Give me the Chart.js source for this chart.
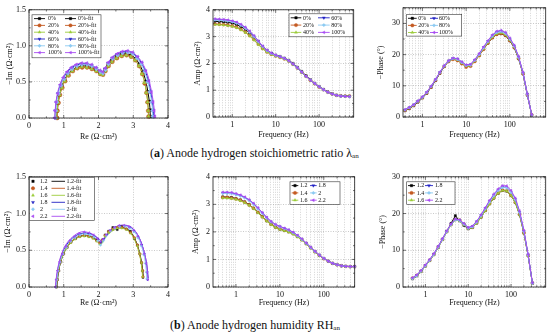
<!DOCTYPE html>
<html>
<head>
<meta charset="utf-8">
<script src="https://cdn.jsdelivr.net/npm/chart.js@4.4.0/dist/chart.umd.min.js"></script>
<style>
body { margin: 0; background: #fff; width: 550px; height: 336px; position: relative; overflow: hidden; font-family: "Liberation Serif", "Times New Roman", serif; }
canvas { position: absolute; }
.cap { position: absolute; font-size: 12px; white-space: nowrap; color: #111; }
.cap sub { font-size: 7px; vertical-align: -1px; }
</style>
</head>
<body>
<canvas id="a1"></canvas>
<canvas id="a2"></canvas>
<canvas id="a3"></canvas>
<canvas id="b1"></canvas>
<canvas id="b2"></canvas>
<canvas id="b3"></canvas>
<div class="cap" style="left:150px;top:146px">(<b>a</b>) Anode hydrogen stoichiometric ratio λ<sub>an</sub></div>
<div class="cap" style="left:170px;top:318px">(<b>b</b>) Anode hydrogen humidity RH<sub>an</sub></div>
<script>
// ---------- data ----------
var seriesA = ['0%', '20%', '40%', '60%', '80%', '100%'];
var seriesB = ['1.2', '1.4', '1.6', '1.8', '2', '2.2'];

var freqA = [0.4, 0.5, 0.63, 0.79, 1, 1.26, 1.58, 2, 2.51, 3.16, 3.98, 5.01, 6.31, 7.94, 10, 12.6, 15.8, 20, 25.1, 31.6, 39.8, 50.1, 63.1, 79.4, 100, 126, 158, 200, 251, 316, 398, 501];
var freqB = [0.5, 0.63, 0.79, 1, 1.26, 1.58, 2, 2.51, 3.16, 3.98, 5.01, 6.31, 7.94, 10, 12.6, 15.8, 20, 25.1, 31.6, 39.8, 50.1, 63.1, 79.4, 100, 126, 158, 200, 251, 316, 398, 501];

var freqTicks = [0.3, 0.4, 0.5, 0.6, 0.7, 0.8, 0.9, 1, 2, 3, 4, 5, 6, 7, 8, 9, 10, 20, 30, 40, 50, 60, 70, 80, 90, 100, 200, 300, 400, 500, 600];
var freqLabels = [1, 10, 100];

// (a) Nyquist, measured
var nyqA0 = [[0.80,0.00],[0.81,0.10],[0.84,0.21],[0.88,0.32],[0.95,0.43],[1.03,0.52],[1.13,0.60],[1.25,0.66],[1.38,0.70],[1.52,0.72],[1.66,0.72],[1.80,0.70],[1.93,0.67],[2.04,0.63],[2.12,0.62],[2.19,0.67],[2.28,0.74],[2.39,0.80],[2.52,0.85],[2.66,0.88],[2.80,0.89],[2.94,0.87],[3.07,0.82],[3.18,0.74],[3.28,0.63],[3.36,0.50],[3.42,0.36],[3.46,0.23],[3.48,0.11],[3.49,0.02]];
var nyqA20 = [[0.81,0.00],[0.82,0.10],[0.85,0.21],[0.89,0.32],[0.96,0.42],[1.04,0.51],[1.14,0.59],[1.26,0.65],[1.39,0.69],[1.53,0.70],[1.67,0.70],[1.81,0.68],[1.94,0.65],[2.05,0.61],[2.13,0.60],[2.20,0.65],[2.29,0.72],[2.40,0.78],[2.53,0.83],[2.67,0.86],[2.81,0.87],[2.94,0.85],[3.06,0.80],[3.17,0.72],[3.26,0.61],[3.33,0.48],[3.38,0.35],[3.41,0.22],[3.43,0.10],[3.44,0.02]];
var nyqA40 = [[0.80,0.00],[0.81,0.10],[0.84,0.21],[0.88,0.32],[0.95,0.42],[1.03,0.51],[1.13,0.59],[1.25,0.65],[1.38,0.69],[1.52,0.71],[1.66,0.70],[1.80,0.68],[1.93,0.65],[2.04,0.61],[2.12,0.60],[2.19,0.65],[2.28,0.72],[2.39,0.78],[2.52,0.83],[2.66,0.86],[2.80,0.87],[2.93,0.85],[3.05,0.80],[3.16,0.72],[3.25,0.61],[3.32,0.49],[3.37,0.35],[3.41,0.22],[3.43,0.10],[3.44,0.02]];
var nyqA60 = [[0.75,0.00],[0.76,0.10],[0.79,0.22],[0.84,0.34],[0.91,0.45],[1.00,0.55],[1.11,0.63],[1.23,0.69],[1.37,0.73],[1.51,0.75],[1.66,0.75],[1.80,0.73],[1.93,0.69],[2.04,0.65],[2.12,0.63],[2.19,0.68],[2.28,0.76],[2.40,0.83],[2.54,0.88],[2.68,0.91],[2.83,0.92],[2.98,0.90],[3.12,0.84],[3.24,0.76],[3.34,0.65],[3.42,0.51],[3.49,0.36],[3.54,0.22],[3.57,0.10],[3.58,0.02]];
var nyqA80 = [[0.76,0.00],[0.77,0.10],[0.80,0.22],[0.85,0.34],[0.92,0.45],[1.01,0.54],[1.12,0.62],[1.24,0.68],[1.38,0.72],[1.52,0.74],[1.67,0.74],[1.81,0.72],[1.94,0.68],[2.05,0.64],[2.13,0.62],[2.20,0.67],[2.29,0.75],[2.41,0.82],[2.55,0.87],[2.69,0.90],[2.84,0.91],[2.98,0.89],[3.11,0.83],[3.23,0.75],[3.33,0.64],[3.41,0.50],[3.47,0.36],[3.52,0.22],[3.55,0.10],[3.56,0.02]];
var nyqA100 = [[0.74,0.00],[0.75,0.10],[0.78,0.22],[0.83,0.34],[0.90,0.46],[0.99,0.56],[1.10,0.64],[1.22,0.70],[1.36,0.74],[1.51,0.76],[1.66,0.76],[1.80,0.74],[1.93,0.70],[2.04,0.66],[2.12,0.64],[2.19,0.69],[2.28,0.77],[2.40,0.84],[2.54,0.89],[2.68,0.92],[2.83,0.93],[2.98,0.91],[3.12,0.85],[3.25,0.77],[3.36,0.65],[3.45,0.51],[3.52,0.36],[3.57,0.22],[3.60,0.10],[3.62,0.02]];

// (a) Nyquist, fitted
var fitA0 = [[0.80,0.00],[0.83,0.20],[0.92,0.40],[1.07,0.57],[1.27,0.67],[1.52,0.72],[1.78,0.70],[1.98,0.65],[2.11,0.62],[2.22,0.69],[2.40,0.80],[2.64,0.88],[2.90,0.88],[3.12,0.79],[3.30,0.61],[3.42,0.37],[3.48,0.14],[3.49,0.00]];
var fitA20 = [[0.81,0.00],[0.84,0.20],[0.93,0.39],[1.08,0.56],[1.28,0.66],[1.53,0.70],[1.79,0.68],[1.99,0.63],[2.12,0.60],[2.23,0.67],[2.41,0.78],[2.65,0.86],[2.90,0.86],[3.11,0.77],[3.28,0.59],[3.38,0.36],[3.43,0.14],[3.44,0.00]];
var fitA40 = [[0.80,0.00],[0.83,0.20],[0.92,0.39],[1.07,0.56],[1.27,0.66],[1.52,0.71],[1.78,0.69],[1.98,0.63],[2.11,0.60],[2.22,0.67],[2.40,0.78],[2.64,0.86],[2.89,0.86],[3.10,0.77],[3.27,0.59],[3.38,0.36],[3.43,0.14],[3.44,0.00]];
var fitA60 = [[0.75,0.00],[0.78,0.20],[0.87,0.41],[1.03,0.59],[1.24,0.70],[1.51,0.75],[1.78,0.73],[1.98,0.67],[2.11,0.63],[2.22,0.71],[2.41,0.84],[2.66,0.91],[2.93,0.91],[3.17,0.81],[3.37,0.62],[3.50,0.37],[3.57,0.14],[3.58,0.00]];
var fitA80 = [[0.76,0.00],[0.79,0.20],[0.88,0.41],[1.04,0.58],[1.25,0.69],[1.52,0.74],[1.79,0.72],[1.99,0.66],[2.12,0.62],[2.23,0.70],[2.42,0.83],[2.67,0.90],[2.93,0.90],[3.16,0.80],[3.35,0.61],[3.48,0.37],[3.55,0.14],[3.56,0.00]];
var fitA100 = [[0.74,0.00],[0.77,0.20],[0.86,0.42],[1.02,0.60],[1.23,0.71],[1.50,0.76],[1.78,0.74],[1.98,0.68],[2.11,0.64],[2.22,0.72],[2.41,0.85],[2.66,0.92],[2.94,0.92],[3.18,0.82],[3.39,0.63],[3.52,0.38],[3.60,0.14],[3.62,0.00]];

// (a) Bode amplitude, one value per freqA
var ampA0 = [3.57,3.56,3.55,3.53,3.50,3.45,3.37,3.27,3.14,2.98,2.80,2.62,2.48,2.38,2.31,2.26,2.20,2.12,2.00,1.86,1.70,1.54,1.39,1.26,1.14,1.03,0.94,0.87,0.82,0.79,0.78,0.78];
var ampA20 = [3.47,3.46,3.45,3.43,3.40,3.35,3.27,3.17,3.04,2.89,2.72,2.56,2.43,2.34,2.28,2.23,2.17,2.09,1.97,1.83,1.67,1.52,1.37,1.24,1.12,1.02,0.93,0.86,0.81,0.79,0.78,0.78];
var ampA40 = [3.45,3.44,3.43,3.41,3.38,3.33,3.25,3.15,3.02,2.87,2.70,2.54,2.42,2.33,2.27,2.22,2.16,2.08,1.96,1.82,1.66,1.51,1.37,1.24,1.12,1.02,0.93,0.86,0.81,0.79,0.78,0.78];
var ampA60 = [3.64,3.63,3.62,3.60,3.57,3.52,3.44,3.33,3.19,3.02,2.83,2.64,2.49,2.38,2.31,2.25,2.19,2.10,1.98,1.84,1.68,1.52,1.38,1.25,1.13,1.02,0.93,0.86,0.81,0.78,0.77,0.76];
var ampA80 = [3.62,3.61,3.60,3.58,3.55,3.50,3.42,3.31,3.17,3.00,2.81,2.63,2.48,2.37,2.30,2.25,2.19,2.10,1.98,1.84,1.68,1.52,1.38,1.25,1.13,1.02,0.93,0.86,0.81,0.78,0.77,0.76];
var ampA100 = [3.66,3.65,3.64,3.62,3.59,3.54,3.46,3.35,3.21,3.04,2.84,2.65,2.50,2.39,2.31,2.25,2.19,2.10,1.98,1.84,1.68,1.52,1.38,1.25,1.13,1.02,0.93,0.86,0.81,0.78,0.77,0.76];

// (a) Bode phase, freqA up to 316 Hz
var phA0 = [2.0,2.7,3.6,4.8,6.1,7.6,9.5,11.7,14.0,16.2,17.9,18.7,18.4,17.4,16.4,16.6,18.0,19.8,21.8,23.7,25.4,26.5,26.7,26.1,24.4,22.2,18.7,13.8,7.0,0.6];
var phA20 = [2.1,2.8,3.7,4.9,6.2,7.7,9.6,11.8,14.1,16.2,17.8,18.5,18.1,17.1,16.0,16.3,17.8,19.7,21.7,23.7,25.4,26.5,26.8,26.2,24.5,22.3,18.8,13.9,7.1,0.7];
var phA40 = [2.2,2.9,3.8,5.0,6.3,7.8,9.7,11.9,14.2,16.3,17.9,18.6,18.3,17.3,16.3,16.5,18.0,19.9,21.9,23.9,25.6,26.7,27.0,26.4,24.7,22.5,19.0,14.1,7.3,0.8];
var phA60 = [2.3,3.0,3.9,5.1,6.4,7.9,9.8,12.0,14.3,16.4,18.0,18.8,18.6,17.6,16.6,16.8,18.3,20.2,22.3,24.3,26.1,27.2,27.5,26.9,25.1,22.8,19.2,14.2,7.3,0.7];
var phA80 = [2.3,3.0,3.9,5.1,6.4,7.9,9.8,12.0,14.3,16.4,18.0,18.8,18.5,17.5,16.5,16.7,18.2,20.1,22.2,24.2,26.0,27.1,27.4,26.8,25.0,22.7,19.1,14.1,7.2,0.6];
var phA100 = [2.4,3.1,4.0,5.2,6.5,8.0,9.9,12.1,14.4,16.5,18.1,18.9,18.7,17.7,16.7,16.9,18.4,20.4,22.5,24.5,26.3,27.5,27.8,27.1,25.3,23.0,19.4,14.3,7.4,0.7];

// (b) Nyquist, measured
var nyqB12 = [[0.80,0.00],[0.82,0.10],[0.86,0.22],[0.92,0.34],[1.00,0.45],[1.10,0.54],[1.21,0.61],[1.34,0.66],[1.47,0.69],[1.60,0.70],[1.73,0.69],[1.85,0.67],[1.95,0.64],[2.04,0.60],[2.11,0.64],[2.19,0.71],[2.29,0.76],[2.41,0.81],[2.54,0.78],[2.67,0.82],[2.80,0.79],[2.92,0.76],[3.03,0.66],[3.12,0.57],[3.19,0.45],[3.24,0.33],[3.27,0.22],[3.28,0.13]];
var nyqB14 = [[0.79,0.00],[0.81,0.10],[0.85,0.22],[0.91,0.34],[0.99,0.45],[1.09,0.54],[1.20,0.61],[1.33,0.66],[1.46,0.69],[1.59,0.70],[1.72,0.69],[1.84,0.67],[1.95,0.63],[2.04,0.60],[2.11,0.64],[2.19,0.70],[2.29,0.75],[2.41,0.79],[2.54,0.81],[2.67,0.81],[2.80,0.79],[2.92,0.74],[3.03,0.67],[3.12,0.57],[3.19,0.45],[3.24,0.33],[3.27,0.22],[3.28,0.14]];
var nyqB16 = [[0.79,0.00],[0.81,0.10],[0.85,0.22],[0.91,0.34],[0.99,0.45],[1.09,0.53],[1.20,0.60],[1.33,0.65],[1.46,0.68],[1.59,0.69],[1.72,0.68],[1.84,0.66],[1.95,0.62],[2.04,0.58],[2.11,0.62],[2.19,0.69],[2.29,0.74],[2.41,0.78],[2.54,0.80],[2.67,0.80],[2.80,0.78],[2.92,0.73],[3.03,0.66],[3.12,0.56],[3.19,0.45],[3.24,0.33],[3.26,0.22],[3.27,0.14]];
var nyqB18 = [[0.77,0.00],[0.79,0.10],[0.83,0.22],[0.89,0.34],[0.97,0.45],[1.07,0.55],[1.19,0.63],[1.32,0.68],[1.46,0.72],[1.60,0.73],[1.74,0.72],[1.87,0.69],[1.98,0.65],[2.07,0.61],[2.14,0.65],[2.23,0.71],[2.34,0.77],[2.47,0.81],[2.61,0.83],[2.75,0.83],[2.89,0.81],[3.02,0.76],[3.14,0.68],[3.24,0.57],[3.32,0.45],[3.37,0.32],[3.40,0.20],[3.41,0.10]];
var nyqB20 = [[0.78,0.00],[0.80,0.10],[0.84,0.22],[0.90,0.34],[0.98,0.45],[1.08,0.54],[1.20,0.62],[1.33,0.67],[1.47,0.71],[1.61,0.72],[1.75,0.71],[1.87,0.68],[1.98,0.63],[2.06,0.57],[2.14,0.63],[2.23,0.70],[2.34,0.76],[2.47,0.80],[2.61,0.82],[2.75,0.83],[2.89,0.80],[3.02,0.75],[3.13,0.67],[3.23,0.56],[3.30,0.44],[3.35,0.32],[3.38,0.20],[3.39,0.11]];
var nyqB22 = [[0.76,0.00],[0.78,0.10],[0.82,0.22],[0.88,0.34],[0.96,0.45],[1.06,0.55],[1.18,0.63],[1.31,0.69],[1.45,0.73],[1.59,0.75],[1.73,0.74],[1.86,0.71],[1.97,0.66],[2.06,0.62],[2.13,0.65],[2.22,0.71],[2.33,0.77],[2.46,0.81],[2.60,0.84],[2.74,0.84],[2.88,0.82],[3.01,0.77],[3.13,0.69],[3.23,0.58],[3.31,0.45],[3.37,0.32],[3.40,0.20],[3.42,0.10]];

// (b) Nyquist, fitted
var fitB12 = [[0.80,0.00],[0.84,0.18],[0.93,0.37],[1.08,0.53],[1.28,0.64],[1.53,0.70],[1.78,0.69],[1.97,0.64],[2.08,0.61],[2.20,0.69],[2.40,0.78],[2.64,0.81],[2.88,0.77],[3.07,0.63],[3.20,0.43],[3.27,0.24],[3.29,0.12]];
var fitB14 = [[0.79,0.00],[0.83,0.18],[0.92,0.37],[1.07,0.53],[1.27,0.64],[1.52,0.70],[1.77,0.69],[1.96,0.64],[2.07,0.60],[2.19,0.68],[2.39,0.77],[2.63,0.81],[2.87,0.77],[3.06,0.63],[3.19,0.43],[3.26,0.24],[3.28,0.13]];
var fitB16 = [[0.79,0.00],[0.83,0.18],[0.92,0.36],[1.07,0.52],[1.27,0.63],[1.52,0.69],[1.77,0.68],[1.96,0.62],[2.07,0.58],[2.19,0.67],[2.39,0.76],[2.63,0.80],[2.87,0.76],[3.06,0.62],[3.19,0.43],[3.25,0.24],[3.27,0.13]];
var fitB18 = [[0.77,0.00],[0.81,0.18],[0.90,0.38],[1.05,0.55],[1.26,0.67],[1.52,0.73],[1.79,0.72],[1.99,0.66],[2.10,0.62],[2.22,0.70],[2.43,0.80],[2.68,0.84],[2.94,0.81],[3.15,0.69],[3.30,0.50],[3.39,0.30],[3.43,0.12]];
var fitB20 = [[0.78,0.00],[0.82,0.18],[0.91,0.37],[1.06,0.54],[1.27,0.66],[1.53,0.72],[1.79,0.70],[1.99,0.64],[2.09,0.59],[2.22,0.68],[2.43,0.79],[2.68,0.83],[2.93,0.80],[3.13,0.68],[3.28,0.49],[3.36,0.30],[3.39,0.11]];
var fitB22 = [[0.76,0.00],[0.80,0.18],[0.89,0.38],[1.04,0.56],[1.25,0.68],[1.51,0.75],[1.78,0.73],[1.98,0.67],[2.09,0.63],[2.21,0.70],[2.42,0.80],[2.67,0.84],[2.93,0.82],[3.14,0.70],[3.30,0.50],[3.39,0.30],[3.42,0.10]];

// (b) Bode amplitude, one value per freqB
var ampB12 = [3.27,3.26,3.25,3.21,3.16,3.09,2.99,2.86,2.71,2.55,2.40,2.27,2.17,2.10,2.05,2.00,1.93,1.83,1.71,1.57,1.42,1.28,1.15,1.03,0.94,0.86,0.81,0.77,0.75,0.74,0.74];
var ampB14 = [3.25,3.25,3.23,3.20,3.15,3.08,2.98,2.86,2.71,2.55,2.41,2.28,2.18,2.11,2.06,2.01,1.94,1.84,1.72,1.58,1.43,1.28,1.15,1.03,0.94,0.86,0.81,0.77,0.75,0.74,0.74];
var ampB16 = [3.23,3.22,3.21,3.18,3.13,3.06,2.96,2.84,2.69,2.53,2.39,2.26,2.16,2.09,2.04,1.99,1.92,1.82,1.70,1.56,1.41,1.27,1.14,1.03,0.94,0.86,0.81,0.77,0.75,0.74,0.74];
var ampB18 = [3.42,3.42,3.41,3.37,3.32,3.25,3.15,3.02,2.86,2.69,2.52,2.37,2.26,2.19,2.13,2.07,1.98,1.87,1.74,1.59,1.44,1.29,1.16,1.04,0.94,0.86,0.81,0.77,0.75,0.74,0.74];
var ampB20 = [3.40,3.40,3.39,3.35,3.30,3.23,3.13,3.00,2.84,2.67,2.50,2.36,2.25,2.18,2.12,2.06,1.97,1.86,1.73,1.59,1.44,1.29,1.16,1.04,0.94,0.86,0.81,0.77,0.75,0.74,0.74];
var ampB22 = [3.44,3.44,3.43,3.39,3.34,3.27,3.17,3.04,2.88,2.70,2.53,2.38,2.27,2.20,2.14,2.08,1.99,1.88,1.75,1.60,1.45,1.30,1.16,1.04,0.94,0.86,0.81,0.77,0.75,0.74,0.74];

// (b) Bode phase, freqB up to 316 Hz
var phB12 = [2.2,3.0,4.2,5.7,7.2,8.8,10.8,12.9,15.1,17.3,19.4,18.0,16.8,15.8,16.2,17.4,19.0,20.8,22.6,24.2,25.5,26.3,26.1,24.9,23.0,19.7,14.7,8.5,1.0];
var phB14 = [2.4,3.2,4.3,5.8,7.3,8.9,10.9,13.0,15.1,17.0,18.4,18.2,17.1,16.0,16.3,17.5,19.1,20.9,22.7,24.3,25.6,26.4,26.2,25.0,23.1,19.8,14.8,8.6,1.1];
var phB16 = [2.3,3.1,4.2,5.7,7.2,8.8,10.8,12.9,15.0,16.9,18.2,18.0,17.0,15.9,16.2,17.4,19.0,20.8,22.6,24.2,25.5,26.3,26.1,24.9,23.0,19.7,14.7,8.5,1.0];
var phB18 = [2.4,3.2,4.4,5.9,7.4,9.0,11.0,13.1,15.2,17.1,18.4,18.2,17.2,16.1,16.5,17.8,19.5,21.4,23.3,25.0,26.4,27.2,27.1,25.9,23.9,20.4,15.2,8.8,1.1];
var phB20 = [2.3,3.1,4.3,5.8,7.3,8.9,10.9,13.0,15.1,17.0,18.3,18.1,17.1,16.0,16.4,17.7,19.4,21.3,23.2,24.9,26.3,27.1,27.0,25.8,23.8,20.3,15.1,8.7,1.0];
var phB22 = [2.5,3.3,4.5,6.0,7.5,9.1,11.1,13.2,15.3,17.2,18.5,18.3,17.3,16.2,16.6,17.9,19.7,21.6,23.6,25.3,26.7,27.6,27.5,26.3,24.2,20.7,15.4,8.9,1.1];

// ---------- styles ----------
var colors = ['#000000', '#c45a22', '#9ccc3a', '#2020c4', '#8ccaf2', '#a84cf2'];
var markers = ['rect', 'circle', 'triangle', 'triangle', 'rectRot', 'triangle'];
var rotations = [0, 0, 0, 180, 0, 270];
var gridColor = '#a6a6a6';

Chart.defaults.font.family = '"Liberation Serif", "Times New Roman", serif';
Chart.defaults.font.size = 8;
Chart.defaults.color = '#111';

function pts(pairs) {
	return pairs.map(function(p) { return { x: p[0], y: p[1] }; });
}

function bode(freq, vals) {
	return vals.map(function(v, i) { return { x: freq[i], y: v }; });
}

// frame round the plot with inward ticks on all four sides
var frameTicks = {
	id: 'frameTicks',
	afterDatasetsDraw: function(chart) {
		var ctx = chart.ctx, a = chart.chartArea;
		ctx.save();
		ctx.strokeStyle = '#1a1a1a';
		ctx.lineWidth = 0.8;
		ctx.strokeRect(a.left, a.top, a.right - a.left, a.bottom - a.top);
		ctx.beginPath();
		['x', 'y'].forEach(function(id) {
			var s = chart.scales[id];
			tickMarks(s).forEach(function(t) {
				var p = s.getPixelForValue(t.v), len = t.major ? 3 : 1.7;
				if (id === 'x') {
					ctx.moveTo(p, a.bottom); ctx.lineTo(p, a.bottom - len);
					ctx.moveTo(p, a.top); ctx.lineTo(p, a.top + len);
				} else {
					ctx.moveTo(a.left, p); ctx.lineTo(a.left + len, p);
					ctx.moveTo(a.right, p); ctx.lineTo(a.right - len, p);
				}
			});
		});
		ctx.lineWidth = 0.6;
		ctx.stroke();
		ctx.restore();
	}
};

function tickMarks(s) {
	if (s.type === 'logarithmic') {
		return s.ticks.map(function(t) { return { v: t.value, major: t.major }; });
	}
	var out = [], step = s.options.minor, big = s.options.ticks.stepSize;
	for (var v = s.min; v <= s.max + 1e-9; v += step) {
		var r = v / big;
		out.push({ v: v, major: Math.abs(r - Math.round(r)) < 1e-6 });
	}
	return out;
}

// boxed legend inside the plot, laid out in columns
var boxLegend = {
	id: 'boxLegend',
	afterDraw: function(chart, args, o) {
		if (!o || !o.items) return;
		var ctx = chart.ctx, a = chart.chartArea;
		var x0 = a.left + o.x, y0 = a.top + o.y;
		ctx.save();
		ctx.fillStyle = '#fff';
		ctx.fillRect(x0, y0, o.w, o.h);
		ctx.strokeStyle = '#333';
		ctx.lineWidth = 0.6;
		ctx.strokeRect(x0, y0, o.w, o.h);
		ctx.font = o.size + 'px "Liberation Serif", serif';
		ctx.textBaseline = 'middle';
		o.items.forEach(function(idx, k) {
			var ds = chart.data.datasets[idx];
			var col = o.cols[Math.floor(k / o.rows)];
			var cy = y0 + o.top + (k % o.rows) * o.rowH;
			var lx = x0 + col[0];
			var drawLine = o.both || ds.showLine !== false;
			var drawMark = o.both || ds.pointRadius > 0;
			ctx.strokeStyle = ds.borderColor;
			ctx.fillStyle = ds.backgroundColor;
			if (drawLine) {
				ctx.lineWidth = 0.9;
				ctx.beginPath(); ctx.moveTo(lx, cy); ctx.lineTo(lx + col[1], cy); ctx.stroke();
			}
			if (drawMark) {
				ctx.lineWidth = 0.4;
				Chart.helpers.drawPoint(ctx, { pointStyle: ds.pointStyle, rotation: ds.pointRotation || 0, radius: 1.7, borderWidth: 0.4 }, lx + col[1] / 2, cy);
			}
			ctx.fillStyle = '#111';
			ctx.fillText(ds.label, x0 + col[2], cy + 0.3);
		});
		ctx.restore();
	}
};

function linAxis(min, max, step, minor, title, fmt) {
	return {
		type: 'linear', min: min, max: max, minor: minor,
		ticks: { stepSize: step, padding: 3, maxRotation: 0, callback: fmt },
		grid: { color: gridColor, lineWidth: 0.6, drawTicks: false },
		border: { display: false, dash: [1, 1.5] },
		title: { display: true, text: title, padding: 0 }
	};
}

function logAxis(min, max) {
	return {
		type: 'logarithmic', min: min, max: max,
		afterBuildTicks: function(s) {
			s.ticks = freqTicks.filter(function(v) { return v >= min && v <= max; })
				.map(function(v) { return { value: v, major: freqLabels.indexOf(v) >= 0 }; });
		},
		ticks: {
			autoSkip: false, maxRotation: 0, padding: 3,
			callback: function(v) { return freqLabels.indexOf(v) >= 0 ? String(v) : ''; }
		},
		grid: { color: gridColor, lineWidth: 0.5, drawTicks: false },
		border: { display: false, dash: [1, 1.5] },
		title: { display: true, text: 'Frequency (Hz)', padding: 0 }
	};
}

// box = plot area [left, top, right, bottom] on the page
function makeChart(id, box, yw, xh, xAxis, yAxis, datasets, legend) {
	var pt = 5, pr = 3;
	var cv = document.getElementById(id);
	cv.width = yw + box[2] - box[0] + pr;
	cv.height = pt + box[3] - box[1] + xh;
	cv.style.left = (box[0] - yw) + 'px';
	cv.style.top = (box[1] - pt) + 'px';
	xAxis.afterFit = function(s) { s.height = xh; };
	yAxis.afterFit = function(s) { s.width = yw; };
	return new Chart(cv, {
		type: 'scatter',
		data: { datasets: datasets },
		options: {
			responsive: false, animation: false, devicePixelRatio: 1, events: [],
			layout: { padding: { top: pt, right: pr, left: 0, bottom: 0 } },
			scales: { x: xAxis, y: yAxis },
			plugins: { legend: { display: false }, tooltip: { enabled: false }, boxLegend: legend }
		},
		plugins: [frameTicks, boxLegend]
	});
}

// later series are drawn over earlier ones, as in the original
function nyqSets(names, meas, fits, radius) {
	var sets = [];
	meas.forEach(function(m, i) {
		sets.push({
			label: names[i], data: pts(m), showLine: false, clip: 4, order: 10 - i,
			pointStyle: markers[i], pointRotation: rotations[i], pointRadius: radius, pointBorderWidth: 0.4,
			backgroundColor: colors[i], borderColor: colors[i]
		});
	});
	fits.forEach(function(f, i) {
		sets.push({
			label: names[i] + '-fit', data: pts(f), showLine: true, tension: 0.35, borderWidth: 1, clip: 4, order: 20 - i,
			pointRadius: 0, pointStyle: markers[i], pointRotation: rotations[i],
			backgroundColor: colors[i], borderColor: colors[i]
		});
	});
	return sets;
}

function bodeSets(names, freq, series) {
	return series.map(function(vals, i) {
		return {
			label: names[i], data: bode(freq, vals), showLine: true, borderWidth: 1, clip: 4, order: 10 - i,
			pointStyle: markers[i], pointRotation: rotations[i], pointRadius: 1.6, pointBorderWidth: 0.3,
			backgroundColor: colors[i], borderColor: colors[i]
		};
	});
}

function oneDecimal(v) { return v.toFixed(1); }
function tens(v) { return v % 10 === 0 ? v : ''; }

// ---------- (a) ----------
makeChart('a1', [29, 7, 170, 118], 24, 24,
	linAxis(0, 4, 1, 0.5, 'Re (Ω·cm²)'),
	linAxis(0, 1.5, 0.5, 0.25, '−Im (Ω·cm²)', oneDecimal),
	nyqSets(seriesA, [nyqA0, nyqA20, nyqA40, nyqA60, nyqA80, nyqA100], [fitA0, fitA20, fitA40, fitA60, fitA80, fitA100], 2),
	{ items: [0, 1, 2, 3, 4, 5, 6, 7, 8, 9, 10, 11], both: true, x: 3, y: 5, w: 69, h: 43, rows: 6, rowH: 6.8, top: 3.8, size: 6, cols: [[2, 11, 16], [33, 11, 46]] });

makeChart('a2', [213, 7, 355, 117], 20, 23,
	logAxis(0.36, 627),
	linAxis(0, 4, 1, 0.5, 'Amp (Ω·cm²)'),
	bodeSets(seriesA, freqA, [ampA0, ampA20, ampA40, ampA60, ampA80, ampA100]),
	{ items: [0, 1, 2, 3, 4, 5], x: 76, y: 4, w: 64, h: 23, rows: 3, rowH: 7.3, top: 4, size: 6, cols: [[1.7, 10.6, 14], [29, 11.7, 42.3]] });

makeChart('a3', [403, 5, 547, 117], 27, 23,
	logAxis(0.36, 660),
	linAxis(0, 35, 10, 5, '−Phase (°)', tens),
	bodeSets(seriesA, freqA, [phA0, phA20, phA40, phA60, phA80, phA100]),
	{ items: [0, 1, 2, 3, 4, 5], x: 3.7, y: 6.7, w: 55, h: 21.6, rows: 3, rowH: 7.1, top: 3.8, size: 6, cols: [[1.3, 8.7, 11.6], [23.3, 8, 32.3]] });

// ---------- (b) ----------
makeChart('b1', [29, 174, 170, 287], 26, 21,
	linAxis(0, 4, 1, 0.5, 'Re (Ω·cm²)'),
	linAxis(0, 1.5, 0.5, 0.25, '−Im (Ω·cm²)', oneDecimal),
	nyqSets(seriesB, [nyqB12, nyqB14, nyqB16, nyqB18, nyqB20, nyqB22], [fitB12, fitB14, fitB16, fitB18, fitB20, fitB22], 1.3),
	{ items: [0, 1, 2, 3, 4, 5, 6, 7, 8, 9, 10, 11], x: 0.5, y: 0.5, w: 65, h: 43, rows: 6, rowH: 7, top: 4, size: 6, cols: [[0.5, 6, 10.5], [22, 13.5, 37]] });

makeChart('b2', [213, 174, 356, 287], 22, 21,
	logAxis(0.33, 505),
	linAxis(0, 4, 1, 0.5, 'Amp (Ω·cm²)'),
	bodeSets(seriesB, freqB, [ampB12, ampB14, ampB16, ampB18, ampB20, ampB22]),
	{ items: [0, 1, 2, 3, 4, 5], x: 77, y: 5, w: 50, h: 22.5, rows: 3, rowH: 7.3, top: 3.8, size: 6, cols: [[1.7, 6.6, 10], [20, 6.7, 28.3]] });

makeChart('b3', [403, 174, 547, 287], 25, 21,
	logAxis(0.34, 646),
	linAxis(0, 30, 10, 5, '−Phase (°)', tens),
	bodeSets(seriesB, freqB, [phB12, phB14, phB16, phB18, phB20, phB22]),
	{ items: [0, 1, 2, 3, 4, 5], x: 3.7, y: 5, w: 48.3, h: 22.5, rows: 3, rowH: 7.3, top: 3.8, size: 6, cols: [[1.3, 7, 10], [18.3, 8, 28.3]] });
</script>
</body>
</html>
